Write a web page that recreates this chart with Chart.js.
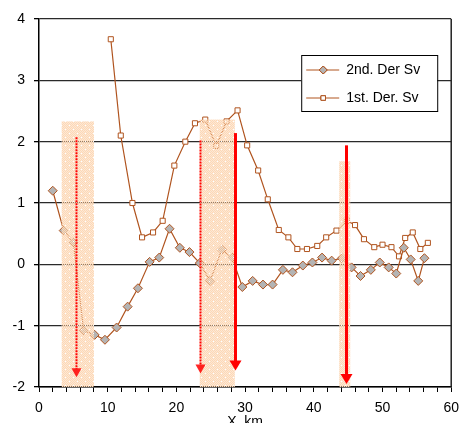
<!DOCTYPE html>
<html>
<head>
<meta charset="utf-8">
<script src="https://cdn.jsdelivr.net/npm/chart.js@4"></script>
<style>
  html, body { margin: 0; padding: 0; background: #fff; }
</style>
</head>
<body>
<canvas id="chart" width="467" height="423"></canvas>
<script>
'use strict';

// 2nd derivative series (diamonds)
const secondX = [2, 3.6, 5, 6.5, 8.1, 9.6, 11.3, 12.9, 14.4, 16.1, 17.5, 19.0, 20.5, 21.9, 23.4, 24.9, 26.6, 28.1,
  29.6, 31.1, 32.6, 34.0, 35.5, 36.9, 38.4, 39.8, 41.2, 42.6, 44.1, 45.5, 46.8, 48.3, 49.6, 50.9, 52.0, 53.1, 54.1, 55.2, 56.1];
const secondY = [1.2, 0.55, 0.36, -1.08, -1.15, -1.23, -1.03, -0.69, -0.39, 0.04, 0.11, 0.58, 0.27, 0.2, 0.02, -0.27, 0.24, 0.11,
  -0.37, -0.27, -0.33, -0.33, -0.09, -0.13, -0.02, 0.03, 0.11, 0.06, 0.1, -0.05, -0.19, -0.09, 0.03, -0.05, -0.15, 0.27, 0.08, -0.27, 0.1];

// 1st derivative series (squares)
const firstX = [10.45, 11.9, 13.6, 15.0, 16.6, 18.0, 19.7, 21.3, 22.7, 24.2, 25.8, 27.3, 28.9, 30.3, 31.9, 33.3, 34.9,
  36.3, 37.6, 39.0, 40.5, 41.8, 43.3, 44.8, 46.0, 47.3, 48.8, 50.0, 51.3, 52.4, 53.3, 54.4, 55.5, 56.6];
const firstY = [3.67, 2.1, 1.0, 0.44, 0.52, 0.71, 1.61, 2.0, 2.3, 2.36, 1.93, 2.33, 2.51, 1.94, 1.53, 1.06, 0.56,
  0.44, 0.25, 0.25, 0.3, 0.44, 0.55, 0.71, 0.64, 0.41, 0.28, 0.32, 0.28, 0.13, 0.43, 0.52, 0.25, 0.35];

const seriesNames = ['2nd. Der Sv', '1st. Der. Sv'];

// shaded zones
const bandFrom = [3.3, 23.4, 43.7];
const bandTo = [8.0, 28.5, 45.3];
const bandTop = [2.33, 2.36, 1.68];

// red arrows (first two are dotted)
const arrowX = [5.4, 23.5, 28.6, 44.7];
const arrowTop = [2.07, 2.02, 2.14, 1.94];
const arrowTip = [-1.84, -1.78, -1.73, -1.95];

const xTitle = 'X, km';
const brown = '#b0541f';
const fontFam = '"Liberation Sans", Arial, sans-serif';

Chart.defaults.font.family = fontFam;
Chart.defaults.color = '#000';

function toPoints(xs, ys) {
  let pts = [];
  for (let i = 0; i < xs.length; i++) {
    pts.push({ x: xs[i], y: ys[i] });
  }
  return pts;
}

function makePattern(ctx) {
  const c = document.createElement('canvas');
  c.width = 8; c.height = 8;
  const p = c.getContext('2d');
  for (let i = 0; i < 8; i++) {
    for (let j = 0; j < 8; j++) {
      p.fillStyle = (i + j) % 2 === 0 ? 'rgba(253,216,182,1)' : 'rgba(252,210,172,0.5)';
      p.fillRect(i, j, 1, 1);
    }
  }
  p.fillStyle = '#fff';
  p.fillRect(1, 1, 1, 1);
  p.fillRect(5, 5, 1, 1);
  return ctx.createPattern(c, 'repeat');
}

function drawArrow(ctx, x, y, i, dotted) {
  const px = Math.round(x.getPixelForValue(arrowX[i])) + 0.5;
  const top = y.getPixelForValue(arrowTop[i]);
  const tip = y.getPixelForValue(arrowTip[i]);
  const headW = dotted ? 10 : 12, headH = dotted ? 9 : 10;
  ctx.strokeStyle = '#ff0000';
  ctx.lineWidth = 2;
  if (!dotted) ctx.lineWidth = 3;
  ctx.setLineDash(dotted ? [2, 1] : []);
  ctx.beginPath();
  ctx.moveTo(px, top);
  ctx.lineTo(px, tip - headH + 1);
  ctx.stroke();
  ctx.setLineDash([]);
  ctx.fillStyle = dotted ? 'rgba(255,0,0,0.85)' : '#ff0000';
  ctx.beginPath();
  ctx.moveTo(px - headW / 2, tip - headH);
  ctx.lineTo(px + headW / 2, tip - headH);
  ctx.lineTo(px, tip);
  ctx.closePath();
  ctx.fill();
}

const overlay = {
  id: 'overlay',
  afterDatasetsDraw(chart) {
    const ctx = chart.ctx;
    const a = chart.chartArea;
    const x = chart.scales.x, y = chart.scales.y;
    ctx.save();
    ctx.fillStyle = makePattern(ctx);
    for (let i = 0; i < bandFrom.length; i++) {
      const l = x.getPixelForValue(bandFrom[i]);
      const r = x.getPixelForValue(bandTo[i]);
      const t = y.getPixelForValue(bandTop[i]);
      const b = y.getPixelForValue(-2);
      ctx.fillRect(l, t, r - l, b - t);
    }

    for (let i = 0; i < arrowX.length; i++) drawArrow(ctx, x, y, i, i < 2);

    // plot frame on the right
    ctx.strokeStyle = '#222';
    ctx.lineWidth = 1.5;
    ctx.beginPath();
    ctx.moveTo(a.right, a.top);
    ctx.lineTo(a.right, a.bottom);
    ctx.stroke();
    ctx.restore();
  },
  afterDraw(chart) {
    const ctx = chart.ctx;
    const a = chart.chartArea;
    const left = a.right - 150, top = a.top + 36, w = 136, h = 56;
    ctx.save();
    ctx.fillStyle = '#fff';
    ctx.fillRect(left, top, w, h);
    ctx.strokeStyle = '#000';
    ctx.lineWidth = 1;
    ctx.strokeRect(left + 0.5, top + 0.5, w, h);
    ctx.font = '14px ' + fontFam;
    ctx.textBaseline = 'middle';
    chart.data.datasets.forEach((ds, i) => {
      const yy = top + 15 + i * 28;
      ctx.strokeStyle = brown;
      ctx.lineWidth = 1;
      ctx.beginPath();
      ctx.moveTo(left + 5, yy);
      ctx.lineTo(left + 38, yy);
      ctx.stroke();
      Chart.helpers.drawPoint(ctx, {
        pointStyle: ds.pointStyle, radius: i === 0 ? 4 : 3.2, borderWidth: 1
      }, left + 22, yy);
      ctx.fillStyle = ds.pointBackgroundColor;
      ctx.strokeStyle = brown;
      ctx.fill();
      ctx.stroke();
      ctx.fillStyle = '#000';
      ctx.fillText(ds.label, left + 45, yy);
    });
    ctx.restore();
  }
};

function renderChart() {
  const ctx = document.getElementById('chart');
  new Chart(ctx, {
    type: 'scatter',
    data: {
      datasets: [{
        label: seriesNames[0],
        data: toPoints(secondX, secondY),
        showLine: true,
        borderColor: brown,
        borderWidth: 1.2,
        pointStyle: 'rectRot',
        pointRadius: 4.5,
        pointBackgroundColor: '#b4b4b4',
        pointBorderColor: brown,
        pointBorderWidth: 1
      }, {
        label: seriesNames[1],
        data: toPoints(firstX, firstY),
        showLine: true,
        borderColor: brown,
        borderWidth: 1.2,
        pointStyle: 'rect',
        pointRadius: 3.6,
        pointBackgroundColor: '#ffffff',
        pointBorderColor: brown,
        pointBorderWidth: 1
      }]
    },
    options: {
      responsive: false,
      animation: false,
      layout: { padding: { top: 19, right: 9, left: 0, bottom: 0 } },
      plugins: { legend: { display: false }, tooltip: { enabled: false } },
      scales: {
        x: {
          type: 'linear', min: 0, max: 60,
          afterFit: s => { s.height = 36; },
          ticks: {
            stepSize: 2, autoSkip: false, maxRotation: 0, padding: 8,
            font: { size: 14 },
            callback: v => Math.round(v) % 10 === 0 ? Math.round(v) : ''
          },
          grid: { drawOnChartArea: false, tickLength: 5, tickColor: '#000' },
          border: { color: '#000', width: 1.5 },
          title: { display: true, text: xTitle, font: { size: 14 }, padding: { top: 0, bottom: -8 } }
        },
        y: {
          min: -2, max: 4,
          afterFit: s => { s.width = 39; },
          ticks: { stepSize: 1, padding: 9, font: { size: 14 } },
          grid: { color: '#2a2a2a', lineWidth: 1.3, tickLength: 5, tickColor: '#000' },
          border: { color: '#000', width: 1.5 }
        }
      }
    },
    plugins: [overlay]
  });
}
renderChart();
</script>
</body>
</html>
